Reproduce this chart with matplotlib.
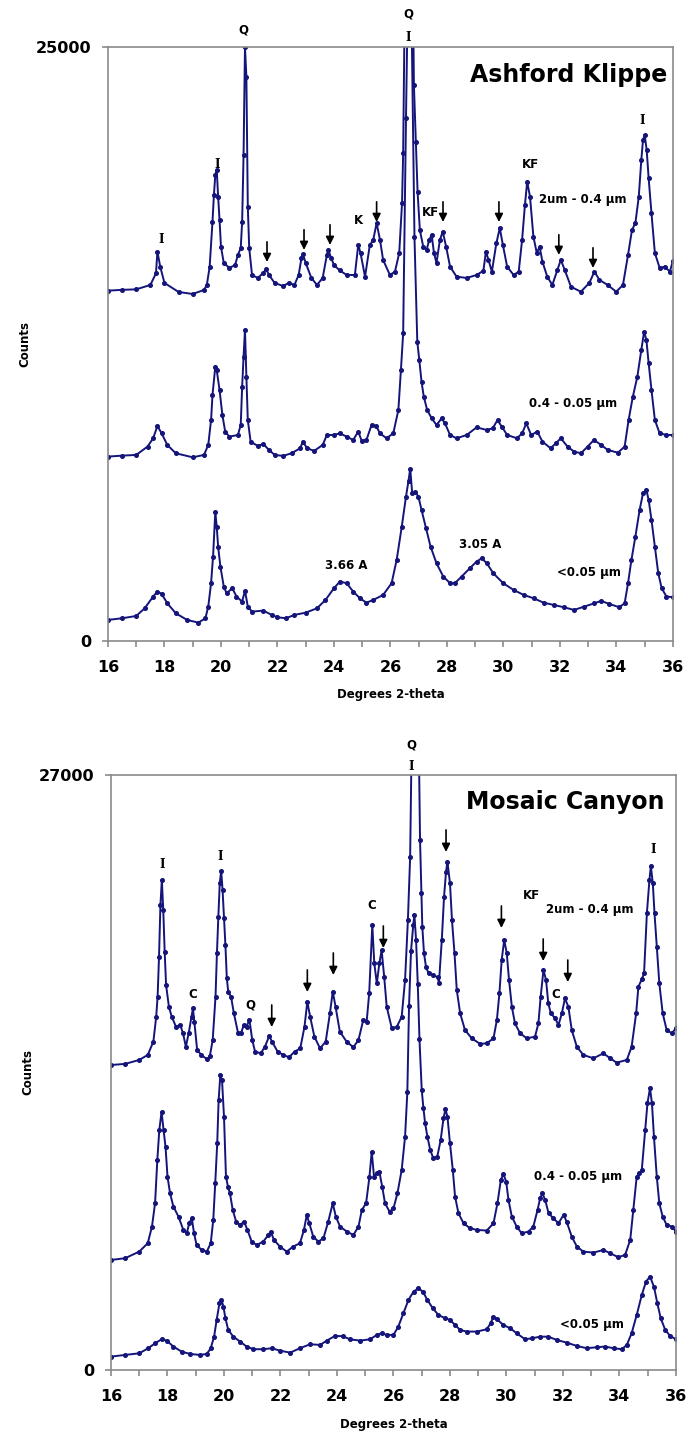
import matplotlib.pyplot as plt
from matplotlib.ticker import MultipleLocator

# Ashford Klippe, 2um - 0.4 um
ak1_deg = [16.0, 16.5, 17.0, 17.5, 17.7, 17.75, 17.85, 18.0, 18.5, 19.0, 19.4, 19.5, 19.6, 19.7, 19.75, 19.8, 19.85,
           19.9, 19.95, 20.0, 20.1, 20.3, 20.5, 20.6, 20.7, 20.75, 20.8, 20.85, 20.9, 20.95, 21.0, 21.1, 21.3, 21.5,
           21.6, 21.7, 21.9, 22.2, 22.4, 22.6, 22.75, 22.85, 22.9, 23.0, 23.2, 23.4, 23.6, 23.75, 23.8, 23.9, 24.0,
           24.2, 24.45, 24.74, 24.86, 24.94, 25.1, 25.27, 25.39, 25.51, 25.63, 25.74, 25.98, 26.16, 26.31, 26.41,
           26.45, 26.55, 26.65, 26.75, 26.83, 26.9, 26.96, 27.04, 27.16, 27.28, 27.37, 27.46, 27.54, 27.63, 27.75,
           27.85, 27.97, 28.11, 28.34, 28.7, 29.05, 29.29, 29.38, 29.47, 29.59, 29.75, 29.87, 29.98, 30.13, 30.36,
           30.54, 30.66, 30.76, 30.84, 30.94, 31.06, 31.18, 31.28, 31.38, 31.55, 31.73, 31.91, 32.03, 32.17, 32.39,
           32.74, 33.04, 33.22, 33.4, 33.69, 33.99, 34.23, 34.41, 34.55, 34.67, 34.79, 34.88, 34.94, 35.0, 35.07,
           35.14, 35.24, 35.36, 35.53, 35.71, 35.89, 36.0]
ak1_counts = [14745, 14780, 14800, 14985, 15475, 16390, 15755, 15070, 14690, 14605, 14775, 14985, 15755, 17650, 18770,
              19615, 19825, 18700, 17720, 16600, 15910, 15700, 15825, 16250, 16540, 17650, 20455, 25000, 23750, 18280,
              16540, 15405, 15280, 15490, 15655, 15405, 15070, 14940, 15070, 14985, 15405, 16120, 16290, 15910, 15280,
              14985, 15280, 16250, 16460, 16120, 15825, 15600, 15405, 15405, 16670, 16330, 15335, 16670, 16880, 17590,
              16880, 16040, 15405, 15545, 16330, 18430, 20540, 32000, 45000, 33000, 23400, 21015, 18910, 17300, 16600,
              16460, 16880, 17090, 16330, 15910, 16880, 17230, 16600, 15755, 15335, 15280, 15405, 15585, 16390, 16040,
              15545, 16750, 17380, 16670, 15755, 15405, 15545, 16880, 18350, 19330, 18700, 17020, 16330, 16600, 15965,
              15335, 14985, 15615, 16040, 15615, 14910, 14700, 15070, 15545, 15195, 14985, 14700, 14985, 16250, 17300,
              17590, 18700, 20245, 21090, 21300, 20670, 19475, 18000, 16330, 15700, 15755, 15545, 16000]

# Ashford Klippe, 0.4 - 0.05 um
ak2_deg = [16.0, 16.5, 17.0, 17.4, 17.6, 17.75, 17.9, 18.1, 18.4, 19.0, 19.4, 19.55, 19.65, 19.7, 19.8, 19.85, 19.95,
           20.05, 20.15, 20.3, 20.6, 20.7, 20.75, 20.8, 20.85, 20.9, 20.95, 21.05, 21.3, 21.5, 21.7, 21.9, 22.2, 22.5,
           22.8, 22.9, 23.05, 23.3, 23.6, 23.75, 24.0, 24.21, 24.45, 24.68, 24.86, 24.98, 25.15, 25.33, 25.49, 25.63,
           25.86, 26.1, 26.28, 26.37, 26.45, 26.55, 26.65, 26.75, 26.85, 26.95, 27.02, 27.1, 27.18, 27.3, 27.46,
           27.63, 27.81, 27.93, 28.11, 28.34, 28.7, 29.05, 29.41, 29.62, 29.79, 29.94, 30.13, 30.48, 30.66, 30.81,
           30.98, 31.2, 31.38, 31.67, 31.85, 32.03, 32.27, 32.5, 32.74, 32.98, 33.2, 33.46, 33.69, 34.05, 34.29,
           34.43, 34.58, 34.74, 34.88, 34.98, 35.06, 35.14, 35.24, 35.36, 35.53, 35.77, 36.0]
ak2_counts = [7760, 7800, 7830, 8180, 8530, 9050, 8740, 8250, 7900, 7730, 7830, 8250, 9300, 10350, 11550, 11400, 10565,
              9510, 8810, 8600, 8670, 9090, 10700, 11970, 13090, 11125, 9300, 8390, 8210, 8290, 8040, 7830, 7790, 7900,
              8110, 8390, 8110, 8000, 8250, 8670, 8670, 8740, 8600, 8460, 8810, 8430, 8460, 9090, 9050, 8740, 8530,
              8740, 9720, 11400, 12950, 22000, 30000, 26000, 17000, 12600, 11830, 10915, 10280, 9720, 9370, 9090,
              9370, 9160, 8670, 8530, 8670, 8990, 8880, 8950, 9300, 9020, 8670, 8530, 8740, 9160, 8670, 8810, 8390,
              8110, 8320, 8530, 8180, 7970, 7900, 8180, 8460, 8250, 8040, 7925, 8180, 9300, 10280, 11125, 12250,
              13020, 12670, 11690, 10565, 9300, 8740, 8670, 8670]

# Ashford Klippe, <0.05 um
ak3_deg = [16.0, 16.5, 17.0, 17.3, 17.6, 17.75, 17.9, 18.1, 18.4, 18.8, 19.2, 19.45, 19.55, 19.65, 19.72, 19.8, 19.85,
           19.9, 19.98, 20.1, 20.2, 20.4, 20.55, 20.75, 20.85, 20.95, 21.1, 21.5, 21.8, 22.0, 22.3, 22.6, 23.0, 23.4,
           23.7, 24.0, 24.21, 24.45, 24.68, 24.92, 25.15, 25.39, 25.74, 26.04, 26.22, 26.4, 26.55, 26.64, 26.7,
           26.77, 26.87, 26.99, 27.1, 27.26, 27.42, 27.63, 27.87, 28.11, 28.28, 28.52, 28.81, 29.05, 29.23, 29.41,
           29.64, 29.99, 30.36, 30.72, 31.07, 31.42, 31.78, 32.13, 32.5, 32.86, 33.22, 33.46, 33.75, 34.1, 34.29,
           34.41, 34.53, 34.67, 34.82, 34.94, 35.06, 35.14, 35.24, 35.36, 35.48, 35.6, 35.77, 36.0]
ak3_counts = [884, 955, 1050, 1375, 1870, 2080, 1980, 1585, 1165, 885, 770, 955, 1445, 2430, 3550, 5440, 4810, 3970,
              3130, 2290, 2005, 2220, 1870, 1655, 2120, 1445, 1235, 1275, 1095, 995, 955, 1095, 1190, 1375, 1725, 2220,
              2500, 2430, 2080, 1795, 1610, 1725, 1935, 2430, 3410, 4810, 6075, 6750, 7250, 6215, 6285, 6075, 5515,
              4740, 3970, 3270, 2710, 2430, 2430, 2710, 3060, 3340, 3480, 3270, 2850, 2430, 2145, 1935, 1795, 1610,
              1515, 1420, 1305, 1445, 1585, 1685, 1555, 1420, 1585, 2430, 3410, 4390, 5515, 6215, 6355, 5935, 5095,
              3970, 2850, 2220, 1870, 1840]

# Mosaic Canyon, 2um - 0.4 um
mc1_deg = [16.0, 16.5, 17.0, 17.3, 17.5, 17.6, 17.65, 17.7, 17.75, 17.8, 17.85, 17.9, 17.95, 18.05, 18.15, 18.3, 18.45,
           18.55, 18.65, 18.75, 18.85, 18.9, 18.95, 19.05, 19.2, 19.4, 19.5, 19.6, 19.7, 19.75, 19.8, 19.85, 19.9,
           19.95, 20.0, 20.05, 20.1, 20.15, 20.25, 20.35, 20.5, 20.6, 20.7, 20.8, 20.9, 21.0, 21.1, 21.3, 21.45, 21.6,
           21.7, 21.9, 22.1, 22.3, 22.5, 22.7, 22.85, 22.95, 23.05, 23.2, 23.4, 23.6, 23.75, 23.85, 23.95, 24.1,
           24.34, 24.58, 24.76, 24.93, 25.05, 25.14, 25.25, 25.32, 25.41, 25.5, 25.58, 25.67, 25.76, 25.94, 26.12,
           26.29, 26.41, 26.51, 26.59, 26.67, 26.76, 26.86, 26.94, 26.99, 27.02, 27.08, 27.15, 27.24, 27.41, 27.56,
           27.61, 27.71, 27.79, 27.86, 27.91, 28.0, 28.07, 28.16, 28.24, 28.36, 28.53, 28.77, 29.07, 29.3, 29.54,
           29.66, 29.75, 29.83, 29.92, 30.01, 30.09, 30.19, 30.3, 30.48, 30.72, 31.01, 31.13, 31.21, 31.31, 31.4,
           31.48, 31.57, 31.72, 31.84, 31.96, 32.07, 32.19, 32.31, 32.49, 32.72, 33.08, 33.43, 33.67, 33.9, 34.26,
           34.43, 34.59, 34.67, 34.79, 34.87, 34.97, 35.06, 35.11, 35.18, 35.24, 35.32, 35.41, 35.53, 35.67, 35.85,
           36.0]
mc1_counts = [13840, 13890, 14070, 14295, 14900, 16030, 16940, 18755, 21100, 22235, 20875, 18985, 17470, 16485, 16030,
              15580, 15655, 15280, 14670, 15280, 16030, 16410, 15805, 14520, 14295, 14100, 14250, 14975, 16940, 18910,
              20570, 22085, 22660, 21780, 20500, 19285, 17775, 17170, 16940, 16185, 15280, 15280, 15655, 15580, 15900,
              14975, 14445, 14370, 14670, 15155, 14900, 14445, 14295, 14190, 14445, 14595, 15580, 16710, 16030, 15125,
              14595, 14900, 16185, 17170, 16485, 15355, 14900, 14645, 14975, 15880, 15800, 17095, 20195, 18455, 17545,
              18455, 19060, 17850, 16485, 15505, 15580, 16030, 17700, 20420, 23300, 31000, 40000, 32000, 24050, 21630,
              20120, 18910, 18300, 18000, 17925, 17820, 17575, 19515, 21480, 22615, 23070, 22085, 20420, 18910, 17245,
              16185, 15430, 15050, 14795, 14825, 15050, 15885, 17095, 18605, 19515, 18910, 17700, 16485, 15730, 15280,
              15050, 15125, 15730, 16940, 18150, 17700, 16640, 16185, 15960, 15655, 16185, 16865, 16485, 15430, 14670,
              14295, 14145, 14370, 14145, 13945, 14070, 14670, 16185, 17395, 17730, 18000, 20725, 22235, 22870, 22085,
              20725, 19210, 17545, 16185, 15430, 15280, 15505]

# Mosaic Canyon, 0.4 - 0.05 um
mc2_deg = [16.0, 16.5, 17.0, 17.3, 17.45, 17.56, 17.64, 17.71, 17.79, 17.86, 17.93, 18.0, 18.09, 18.21, 18.39, 18.56,
           18.68, 18.77, 18.86, 18.94, 19.03, 19.21, 19.39, 19.53, 19.62, 19.69, 19.76, 19.81, 19.87, 19.93, 20.0,
           20.07, 20.14, 20.21, 20.31, 20.43, 20.57, 20.71, 20.83, 20.98, 21.16, 21.39, 21.57, 21.65, 21.77, 21.98,
           22.22, 22.45, 22.69, 22.83, 22.93, 23.02, 23.16, 23.34, 23.52, 23.69, 23.85, 23.96, 24.11, 24.35, 24.58,
           24.76, 24.88, 25.03, 25.15, 25.23, 25.31, 25.41, 25.5, 25.6, 25.7, 25.86, 26.0, 26.14, 26.29, 26.41, 26.49,
           26.55, 26.62, 26.7, 26.74, 26.8, 26.86, 26.92, 27.0, 27.06, 27.12, 27.2, 27.3, 27.41, 27.55, 27.67, 27.77,
           27.84, 27.91, 28.0, 28.1, 28.18, 28.3, 28.48, 28.71, 28.95, 29.3, 29.54, 29.68, 29.8, 29.89, 29.99, 30.07,
           30.19, 30.36, 30.54, 30.78, 30.95, 31.1, 31.19, 31.27, 31.37, 31.49, 31.66, 31.84, 32.02, 32.13, 32.31,
           32.49, 32.72, 33.08, 33.43, 33.67, 33.96, 34.2, 34.38, 34.49, 34.61, 34.7, 34.79, 34.91, 34.99, 35.08,
           35.15, 35.22, 35.32, 35.41, 35.53, 35.67, 35.85, 36.0]
mc2_counts = [4990, 5070, 5370, 5750, 6505, 7565, 9530, 10890, 11720, 10890, 10135, 8775, 8020, 7410, 6955, 6355, 6200,
              6655, 6885, 6200, 5670, 5445, 5370, 5750, 6805, 8470, 10285, 12250, 13385, 13160, 11495, 8775, 8320, 8020,
              7260, 6730, 6580, 6730, 6355, 5825, 5670, 5825, 6125, 6280, 5900, 5600, 5370, 5600, 5750, 6355, 7035,
              6655, 6050, 5825, 5975, 6730, 7565, 6955, 6500, 6280, 6125, 6505, 7260, 7565, 8775, 9910, 8775, 8925,
              9000, 8320, 7565, 7185, 7335, 8020, 9075, 10590, 12600, 16500, 19000, 20200, 20650, 19500, 17500, 15000,
              12705, 11875, 11195, 10590, 9985, 9605, 9680, 10435, 11420, 11830, 11495, 10285, 9075, 7865, 7110, 6655,
              6430, 6355, 6325, 6655, 7565, 8620, 8895, 8545, 7715, 6955, 6505, 6200, 6280, 6505, 7260, 7790, 8020,
              7715, 7110, 6885, 6655, 7035, 6730, 6050, 5600, 5370, 5325, 5445, 5295, 5115, 5220, 5900, 7260, 8775,
              8925, 9075, 10890, 12100, 12785, 12100, 10590, 8775, 7565, 6955, 6580, 6505, 6280]

# Mosaic Canyon, <0.05 um
mc3_deg = [16.0, 16.5, 17.0, 17.32, 17.56, 17.79, 17.97, 18.21, 18.5, 18.8, 19.15, 19.39, 19.53, 19.65, 19.74, 19.84,
           19.91, 19.98, 20.05, 20.15, 20.33, 20.57, 20.8, 21.04, 21.39, 21.69, 21.98, 22.34, 22.69, 23.05, 23.4,
           23.64, 23.93, 24.2, 24.46, 24.82, 25.17, 25.41, 25.58, 25.76, 26.0, 26.17, 26.35, 26.53, 26.71, 26.88,
           27.04, 27.2, 27.39, 27.59, 27.83, 28.0, 28.18, 28.36, 28.59, 28.95, 29.3, 29.44, 29.54, 29.66, 29.89,
           30.13, 30.36, 30.66, 30.9, 31.19, 31.48, 31.78, 32.13, 32.49, 32.84, 33.2, 33.49, 33.79, 34.08, 34.26,
           34.43, 34.61, 34.79, 34.94, 35.08, 35.22, 35.34, 35.46, 35.62, 35.79, 36.0]
mc3_counts = [605, 680, 755, 985, 1210, 1390, 1330, 1060, 830, 725, 680, 725, 985, 1510, 2270, 3025, 3175, 2875, 2345,
              1815, 1510, 1285, 1060, 940, 940, 985, 875, 785, 985, 1165, 1135, 1330, 1545, 1530, 1390, 1330, 1390,
              1590, 1665, 1590, 1590, 1965, 2570, 3175, 3555, 3705, 3555, 3175, 2800, 2495, 2345, 2270, 2040, 1815,
              1740, 1740, 1845, 2120, 2420, 2300, 2040, 1890, 1665, 1390, 1435, 1510, 1510, 1360, 1240, 1090, 985,
              1030, 1060, 985, 940, 1135, 1665, 2495, 3405, 4010, 4235, 3780, 3025, 2345, 1815, 1545, 1390]

# peak labels (x, y, text)
ak_labels = [(17.88, 16880, 'I'), (19.86, 20035, 'I'), (20.81, 25720, 'Q'), (26.62, 26390, 'Q'),
             (26.62, 25420, 'I'), (24.85, 17680, 'K'), (27.43, 18015, 'KF'), (30.97, 20035, 'KF'),
             (34.9, 21890, 'I'), (32.81, 18600, '2um - 0.4 µm'), (32.46, 9975, '0.4 - 0.05 µm'),
             (33.03, 2860, '<0.05 µm'), (24.42, 3155, '3.66 A'), (29.17, 4080, '3.05 A')]
ak_arrows = [21.63, 22.94, 23.86, 25.51, 27.86, 29.84, 31.96, 33.17]
ak_arrow_tips = [15950, 16460, 16670, 17635, 17635, 17635, 16250, 15700]

mc_labels = [(17.82, 22960, 'I'), (19.88, 23325, 'I'), (18.91, 17060, 'C'), (20.92, 16565, 'Q'),
             (26.64, 28360, 'Q'), (26.61, 27380, 'I'), (25.23, 21070, 'C'), (30.89, 21555, 'KF'),
             (31.75, 17020, 'C'), (35.2, 23600, 'I'), (32.96, 20875, '2um - 0.4 µm'),
             (32.54, 8800, '0.4 - 0.05 µm'), (33.01, 2040, '<0.05 µm')]
mc_arrows = [21.69, 22.95, 23.87, 25.64, 27.86, 29.82, 31.3, 32.17]
mc_arrow_tips = [15565, 17155, 17925, 19150, 23510, 20060, 18560, 17605]

navy = '#14147a'
gray = '#8a8a8a'


def draw_panel(ax, traces, ymax, labels, arrows, tips, arrow_len, title, title_xy):
    for deg, counts in traces:
        ax.plot(deg, counts, color=navy, lw=1.4, marker='o', ms=2.6, mec=navy, mfc=navy)
    ax.set_xlim(16, 36)
    ax.set_ylim(0, ymax)
    ax.set_xticks(range(16, 37, 2))
    ax.xaxis.set_minor_locator(MultipleLocator(1))
    ax.set_yticks([0, ymax])
    for s in ax.spines.values():
        s.set_color(gray)
        s.set_linewidth(1.2)
    ax.tick_params(which='both', direction='out', color=gray, length=4, width=1.2)
    ax.tick_params(axis='x', pad=10)
    ax.tick_params(axis='y', pad=8)
    for lab in ax.get_xticklabels() + ax.get_yticklabels():
        lab.set_fontweight('bold')
        lab.set_fontsize(11.5)
    ax.set_xlabel('Degrees 2-theta', fontsize=8.5, fontweight='bold')
    ax.set_ylabel('Counts', fontsize=8.5, fontweight='bold')
    ax.xaxis.set_label_coords(0.5, -0.08)
    ax.yaxis.set_label_coords(-0.135, 0.5)
    for x, y, t in labels:
        fam = 'DejaVu Serif' if t == 'I' else 'DejaVu Sans'
        ax.text(x, y, t, ha='center', va='center', fontsize=8.5, fontweight='bold',
                family=fam, clip_on=False)
    for x, tip in zip(arrows, tips):
        ax.annotate('', xy=(x, tip), xytext=(x, tip + arrow_len),
                    arrowprops=dict(arrowstyle='-|>', color='black', lw=1.2,
                                    mutation_scale=12, shrinkA=0, shrinkB=0))
    ax.text(title_xy[0], title_xy[1], title, ha='right', va='center', fontsize=17, fontweight='bold')


fig = plt.figure(figsize=(6.89, 14.39), dpi=100)
ax1 = fig.add_axes([0.1567, 0.5546, 0.8200, 0.4127])
ax2 = fig.add_axes([0.1611, 0.0480, 0.8200, 0.4134])

draw_panel(ax1, [(ak1_deg, ak1_counts), (ak2_deg, ak2_counts), (ak3_deg, ak3_counts)], 25000,
           ak_labels, ak_arrows, ak_arrow_tips, 850, 'Ashford Klippe', (35.8, 23820))
draw_panel(ax2, [(mc1_deg, mc1_counts), (mc2_deg, mc2_counts), (mc3_deg, mc3_counts)], 27000,
           mc_labels, mc_arrows, mc_arrow_tips, 1000, 'Mosaic Canyon', (35.61, 25790))

fig.savefig('out.png', dpi=100)
